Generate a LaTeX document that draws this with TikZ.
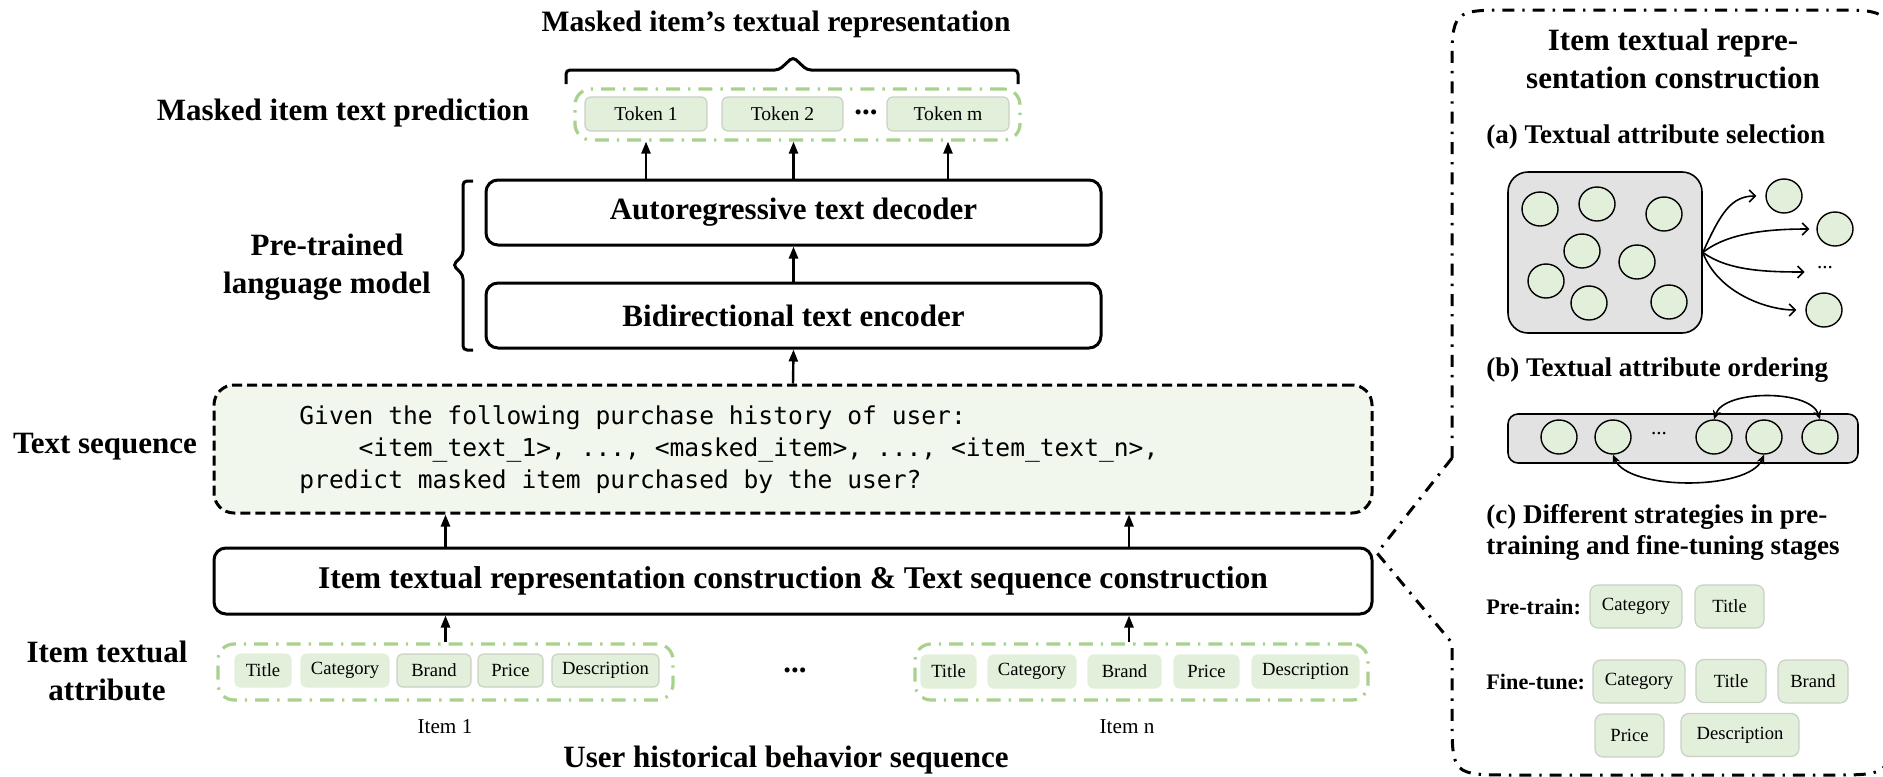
\documentclass[tikz,border=0pt]{standalone}
\usepackage{fontspec}
\setmainfont{Liberation Serif}
\setmonofont{DejaVu Sans Mono}
\usetikzlibrary{arrows.meta,shapes.geometric}
\definecolor{grpgreen}{HTML}{A9D18E}
\definecolor{boxfill}{HTML}{E2EFDA}
\definecolor{boxborder}{HTML}{C9D0C4}
\definecolor{seqfill}{HTML}{F2F7EE}
\definecolor{grayfill}{HTML}{E2E2E2}
\newcommand{\myBig}{\fontsize{15.5pt}{19pt}\selectfont\bfseries}
\newcommand{\myTitle}{\fontsize{14.8pt}{19pt}\selectfont\bfseries}
\newcommand{\myCons}{\fontsize{15.8pt}{19pt}\selectfont\bfseries}
\newcommand{\mySub}{\fontsize{13.5pt}{15.5pt}\selectfont\bfseries}
\newcommand{\myLab}{\fontsize{11.1pt}{13pt}\selectfont\bfseries}
\newcommand{\mySmall}{\fontsize{9.3pt}{11pt}\selectfont}
\newcommand{\myTok}{\fontsize{9.8pt}{11pt}\selectfont}
\newcommand{\myItem}{\fontsize{10.6pt}{12pt}\selectfont}
\newcommand{\myMono}{\fontsize{12.3pt}{16pt}\selectfont\ttfamily}
\begin{document}
\begin{tikzpicture}[x=0.5pt,y=-0.5pt,
  mainbox/.style={draw, line width=1.5pt, rounded corners=6pt, font=\myBig, inner sep=0pt},
  lbl/.style={font=\myBig, align=center, inner sep=0pt},
  sub/.style={font=\mySub, align=left, inner sep=0pt, anchor=west},
  tokbox/.style={draw=boxborder, fill=boxfill, rounded corners=3pt, line width=0.6pt, inner sep=0pt, minimum height=17pt, font=\myTok},
  itbox/.style={draw=boxborder, fill=boxfill, rounded corners=3pt, line width=0.6pt, inner sep=0pt, minimum height=16.5pt, font=\mySmall},
  itboxnb/.style={itbox, draw=boxfill},
  rbox/.style={draw=boxborder, fill=boxfill, rounded corners=4pt, line width=0.6pt, inner sep=0pt, minimum height=21.5pt, font=\mySmall},
  grp/.style={draw=grpgreen, line width=1.6pt, dash pattern=on 7pt off 4pt on 1.2pt off 4pt, rounded corners=8pt, inner sep=0pt},
  arr/.style={-{Triangle[length=6pt,width=4.5pt]}, line width=1.2pt},
  barb/.style={-{Straight Barb[length=3pt,width=6pt]}, line width=0.8pt},
  stl/.style={{Stealth[length=4.5pt,width=4pt]}-{Stealth[length=4.5pt,width=4pt]}, line width=0.8pt},
  circ/.style={ellipse, draw, line width=0.7pt, fill=boxfill, minimum width=18pt, minimum height=17pt, inner sep=0pt},
  graybox/.style={draw, line width=0.8pt, fill=grayfill, inner sep=0pt},
  bigdd/.style={line width=1.5pt, dash pattern=on 6pt off 4pt on 1.2pt off 4pt},
  brc/.style={line width=1.5pt, rounded corners=2pt}
]
\useasboundingbox (0,0) rectangle (1883,776);

% ---------------- left part ----------------
\node[lbl, font=\myTitle] (top) at (776,24) {Masked item’s textual representation};
\draw[brc] (566,84) -- (566,70) -- (779,70) -- (793,57) -- (807,70) -- (1018,70) -- (1018,84);

\node[grp, minimum width=222.5pt, minimum height=25.5pt] (tg) at (797.5,114.5) {};
\node[tokbox, minimum width=61pt] (t1) at (646,114) {Token 1};
\node[tokbox, minimum width=60.5pt] (t2) at (782.5,114) {Token 2};
\node[font=\myBig, inner sep=0pt] (tdots) at (866,112) {...};
\node[tokbox, minimum width=61pt] (tm) at (948,114) {Token m};
\node[lbl] (lpred) at (343,113) {Masked item text prediction};

\node[mainbox, minimum width=307.5pt, minimum height=32.5pt] (dec) at (793.5,212.5) {Autoregressive text decoder};
\node[mainbox, minimum width=307.5pt, minimum height=32.5pt] (enc) at (793.5,315.5) {Bidirectional text encoder};
\draw[brc] (473,181) -- (463,181) -- (463,255) -- (453,265) -- (463,275) -- (463,350) -- (473,350);
\node[lbl] (lplm) at (327,267.5) {Pre-trained\\language model};

\draw[arr] (dec.north -| t1) -- (tg.south -| t1);
\draw[arr] (dec.north) -- (dec.north |- tg.south);
\draw[arr] (dec.north -| tm) -- (tg.south -| tm);
\draw[arr] (enc.north) -- (dec.south);

\node[draw, fill=seqfill, line width=1.5pt, dash pattern=on 5pt off 2.5pt, rounded corners=10pt, minimum width=579pt, minimum height=64pt] (seq) at (793,449) {};
\node[anchor=west, font=\myMono, align=left, inner sep=0pt] (seqtxt) at (299,450) {Given the following purchase history of user:\\\hphantom{xxxx}<item\_text\_1>, ..., <masked\_item>, ..., <item\_text\_n>,\\predict masked item purchased by the user?};
\node[lbl] (lts) at (105,447) {Text sequence};
\draw[arr] (seq.north) -- (enc.south);

\node[mainbox, font=\myCons, minimum width=579pt, minimum height=33pt] (cons) at (793,581) {Item textual representation construction \& Text sequence construction};

\node[grp, minimum width=227.5pt, minimum height=28pt] (g1) at (445.5,672) {};
\node[itboxnb, minimum width=28pt] (g1a) at (263,670.5) {Title};
\node[itboxnb, minimum width=44pt] (g1b) at (345,670.5) {Category};
\node[itbox, minimum width=37pt] (g1c) at (434,670.5) {Brand};
\node[itbox, minimum width=32.5pt] (g1d) at (510.5,670.5) {Price};
\node[itbox, minimum width=53.5pt] (g1e) at (605.5,670.5) {Description};

\node[font=\myBig, inner sep=0pt] (gdots) at (795,670) {...};

\node[grp, minimum width=226.5pt, minimum height=28pt] (gn) at (1141.5,672) {};
\node[itboxnb, minimum width=27.5pt] (gna) at (948.5,671.5) {Title};
\node[itboxnb, minimum width=44pt] (gnb) at (1032,671.5) {Category};
\node[itboxnb, minimum width=36.5pt] (gnc) at (1124.5,671.5) {Brand};
\node[itboxnb, minimum width=32.5pt] (gnd) at (1206.5,671.5) {Price};
\node[itboxnb, minimum width=53.5pt] (gne) at (1305.5,671.5) {Description};

\coordinate (axn) at (1129,0);
\draw[arr] (g1.north) -- (g1.north |- cons.south);
\draw[arr] (gn.north -| axn) -- (cons.south -| axn);
\draw[arr] (cons.north -| g1.north) -- (seq.south -| g1.north);
\draw[arr] (cons.north -| axn) -- (seq.south -| axn);

\node[lbl] (lita) at (107,671) {Item textual\\attribute};
\node[font=\myItem, inner sep=0pt] (i1) at (445,727) {Item 1};
\node[font=\myItem, inner sep=0pt] (inn) at (1127,727) {Item n};
\node[lbl] (uh) at (786,760) {User historical behavior sequence};

% ---------------- right panel ----------------
\coordinate (tipL) at (1377,553);
\draw[bigdd] (1452,458) -- (tipL) -- (1452,643) -- (1452,715) .. controls (1452,775) .. (1512,775) -- (1831,775) .. controls (1891,775) .. (1891,715) -- (1891,70) .. controls (1891,10) .. (1831,10) -- (1512,10) .. controls (1452,10) .. (1452,70) -- cycle;

\node[lbl] (rtitle) at (1673,59) {Item textual repre-\\sentation construction};
\node[sub] (sa) at (1486,137) {(a) Textual attribute selection};

\node[graybox, rounded corners=10pt, minimum width=97pt, minimum height=80.5pt] (ga) at (1605,252.5) {};
\node[circ] (a1) at (1540,209) {};
\node[circ] (a2) at (1597,204) {};
\node[circ] (a3) at (1664,214) {};
\node[circ] (a4) at (1582,251) {};
\node[circ] (a5) at (1637,262) {};
\node[circ] (a6) at (1546,281) {};
\node[circ] (a7) at (1589,303) {};
\node[circ] (a8) at (1669,302) {};
\node[circ] (o1) at (1784,196) {};
\node[circ] (o2) at (1835,229) {};
\node[font=\myItem, inner sep=0pt] (od) at (1825,268) {...};
\node[circ] (o3) at (1824,310) {};
\draw[barb] (ga.east) .. controls +(18,-40) and +(-25,0) .. ([xshift=-4.5pt]o1.west);
\draw[barb] (ga.east) .. controls +(25,-20) and +(-40,0) .. ([xshift=-3.5pt]o2.west);
\draw[barb] (ga.east) .. controls +(25,18) and +(-40,0) .. ([xshift=-6pt,yshift=-2pt]od.west);
\draw[barb] (ga.east) .. controls +(15,40) and +(-30,0) .. ([xshift=-4.5pt]o3.west);

\node[sub] (sb) at (1486,370) {(b) Textual attribute ordering};
\node[graybox, rounded corners=5pt, minimum width=175pt, minimum height=24.5pt] (gb) at (1683,438.5) {};
\node[circ] (b1) at (1559,437) {};
\node[circ] (b2) at (1613,437) {};
\node[font=\myItem, inner sep=0pt] (bd) at (1659,434) {...};
\node[circ] (b3) at (1714,437) {};
\node[circ] (b4) at (1764,437) {};
\node[circ] (b5) at (1820,437) {};
\draw[stl] (b3.north) .. controls +(10,-30) and +(-10,-30) .. (b5.north);
\draw[stl] (b4.south) .. controls +(-15,36) and +(15,36) .. (b2.south);

\node[sub] (sc) at (1486,532.5) {(c) Different strategies in pre-\\training and fine-tuning stages};

\node[font=\myLab, inner sep=0pt, anchor=west] (lpre) at (1486,607) {Pre-train:};
\node[rbox, minimum width=46pt] (pc) at (1636,606.5) {Category};
\node[rbox, minimum width=34.5pt] (pt) at (1729.5,606.5) {Title};

\node[font=\myLab, inner sep=0pt, anchor=west] (lfin) at (1486,682) {Fine-tune:};
\node[rbox, minimum width=46pt] (fc) at (1639,681.5) {Category};
\node[rbox, minimum width=35pt] (ft) at (1731,681) {Title};
\node[rbox, minimum width=35pt] (fb) at (1813,681.5) {Brand};
\node[rbox, minimum width=34.5pt] (fp) at (1629.5,735.5) {Price};
\node[rbox, minimum width=59pt] (fd) at (1740,735) {Description};
\end{tikzpicture}
\end{document}
